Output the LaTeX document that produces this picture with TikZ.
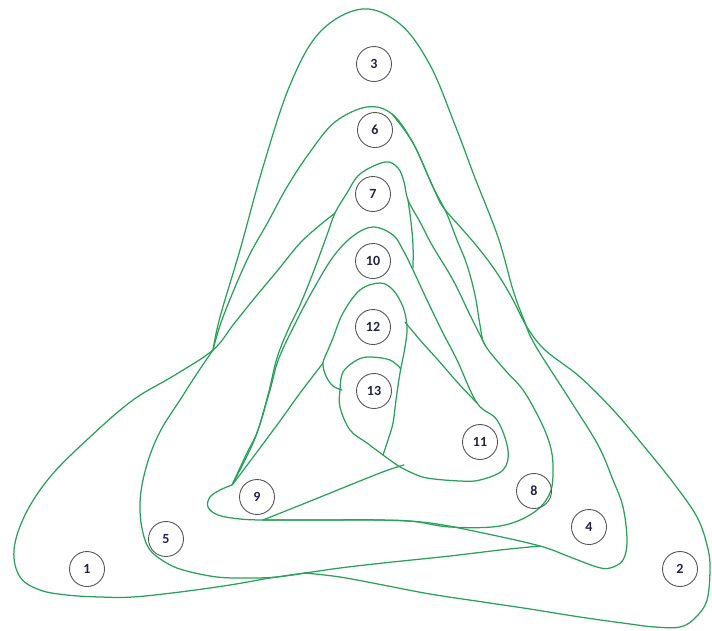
\documentclass[tikz,border=0pt]{standalone}
\usepackage{fontspec}
\setmainfont{Carlito}
\definecolor{lineg}{RGB}{40,162,88}
\definecolor{circ}{RGB}{85,85,85}
\definecolor{txt}{RGB}{35,35,70}
\begin{document}
\begin{tikzpicture}[x=1pt,y=-1pt,
  curve/.style={draw=lineg, line width=1.25pt, line join=round, line cap=round},
  lbl/.style={circle, draw=circ, line width=0.9pt, minimum size=35pt, inner sep=0pt,
    font=\fontsize{14}{14}\selectfont\bfseries, text=txt}]
\useasboundingbox (0,0) rectangle (712,630);

% lobe 3 -> 4 -> horizontal to 9
\draw[curve] plot[smooth, tension=0.6] coordinates {(213,350) (220,317) (240,250) (263,167) (290,85) (320,32) (362,9) (400,24) (430,65) (455,125) (475,178) (498,237) (513,290) (524,320) (535,345) (570,400) (598,445) (613,480) (623,507) (627,540) (623,560) (610,568) (597,567) (570,557) (540,546) (483,533) (430,523) (380,520) (320,520) (263,520)};

% lobe 6 -> 2 -> bottom
\draw[curve] plot[smooth, tension=0.6] coordinates {(213,350) (223,317) (247,260) (268,222) (287,187) (310,152) (335,122) (367,107) (392,114) (413,143) (433,187) (443,207) (463,230) (480,250) (497,273) (512,298) (527,327) (545,350) (580,377) (615,412) (647,450) (675,485) (697,517) (707,545) (710,567) (707,600) (695,618) (680,627) (655,627) (630,624) (580,617) (530,609) (483,602) (430,594) (383,585) (340,577) (305,573)};

% branch of 6 -> 8 -> 9 loop
\draw[curve] plot[smooth, tension=0.6] coordinates {(392,114) (413,143) (433,187) (446,212) (457,240) (467,265) (475,295) (480,325) (485,345) (505,370) (523,390) (540,420) (550,445) (553,467) (550,493) (533,513) (500,526) (450,527) (410,521) (360,520) (300,520) (263,520) (240,519) (218,515) (208,507) (210,497) (220,490) (232,485)};

% lobe 7
\draw[curve] plot[smooth, tension=0.6] coordinates {(232,485) (245,460) (257,433) (268,395) (277,358) (288,330) (300,305) (313,273) (327,235) (335,213) (347,193) (360,174) (385,162) (398,168) (404,182) (408,200) (420,222) (432,245) (453,280) (470,315) (485,345)};
\draw[curve] plot[smooth, tension=0.6] coordinates {(408,200) (411,222) (413,245) (413,268)};

% curve 1
\draw[curve] plot[smooth, tension=0.6] coordinates {(335,213) (303,240) (278,270) (253,300) (233,325) (213,350) (175,375) (133,400) (90,437) (50,477) (25,515) (14,550) (20,577) (40,590) (67,595) (100,597) (133,597) (180,592) (230,585) (270,578) (305,573) (340,568) (383,563) (450,556) (500,550) (540,546)};

% curve 5
\draw[curve] plot[smooth, tension=0.6] coordinates {(213,350) (196,375) (180,400) (162,428) (150,455) (142,485) (140,510) (143,533) (150,550) (165,562) (183,570) (217,577) (250,578) (277,577) (305,573)};

% lobe 10 -> 11 -> 13
\draw[curve] plot[smooth, tension=0.6] coordinates {(232,485) (246,455) (258,430) (270,390) (279,358) (297,320) (313,290) (333,257) (353,236) (373,227) (393,235) (403,250) (413,270) (427,300) (443,333) (457,360) (477,403) (497,420) (508,450) (503,470) (480,480) (460,481) (427,478) (410,472) (400,467) (383,455) (367,443) (350,430) (340,407) (340,390) (343,372) (357,360) (370,357) (390,360) (401,369)};

% lobe 12
\draw[curve] plot[smooth, tension=0.6] coordinates {(342,390) (333,386) (326,376) (323,363) (328,350) (333,338) (343,313) (360,290) (380,283) (393,290) (403,307) (407,327) (405,347) (400,373) (396,400) (393,423) (388,440) (383,455)};
\draw[curve] plot[smooth, tension=0.6] coordinates {(405,322) (420,340) (438,360) (458,383) (477,403)};
\draw[curve] (233,484) -- (257,452) -- (280,421) -- (300,393) -- (323,363);

% diagonal from 9
\draw[curve] plot[smooth, tension=0.6] coordinates {(263,520) (313,500) (380,473) (404,465)};

% labels
\node[lbl] (n1) at (87,569) {1};
\node[lbl] (n2) at (680,569) {2};
\node[lbl] (n3) at (374,64) {3};
\node[lbl] (n4) at (589,527) {4};
\node[lbl] (n5) at (166,539) {5};
\node[lbl] (n6) at (375,130) {6};
\node[lbl] (n7) at (373,194) {7};
\node[lbl] (n8) at (534,491) {8};
\node[lbl] (n9) at (257,497) {9};
\node[lbl] (n10) at (373,261) {10};
\node[lbl] (n11) at (480,442) {11};
\node[lbl] (n12) at (373,327) {12};
\node[lbl] (n13) at (374,391) {13};
\end{tikzpicture}
\end{document}
